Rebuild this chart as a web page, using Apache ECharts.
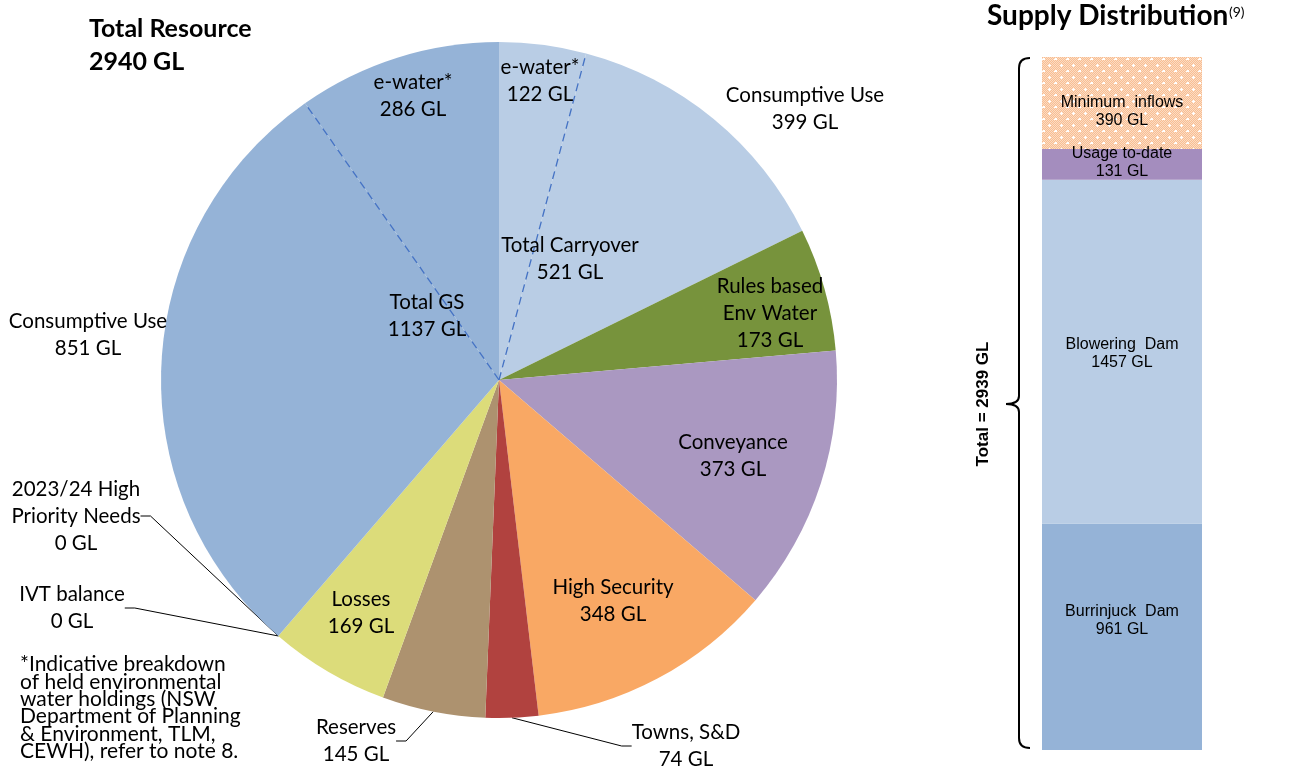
<!DOCTYPE html>
<html>
<head>
<meta charset="utf-8">
<script src="https://cdn.jsdelivr.net/npm/echarts@6/dist/echarts.min.js"></script>
<style>
  html, body { margin: 0; padding: 0; background: #fff; }
  #main { width: 1289px; height: 771px; }
</style>
</head>
<body>
<div id="main"></div>
<script>
// pie slices, clockwise from 12 o'clock
const pieNames = ['e-water*', 'Consumptive Use', 'Rules based\nEnv Water', 'Conveyance', 'High Security',
  'Towns, S&D', 'Reserves', 'Losses', 'IVT balance', '2023/24 High\nPriority Needs', 'Consumptive Use', 'e-water*'];
const pieValues = [122, 399, 173, 373, 348, 74, 145, 169, 0, 0, 851, 286];
const pieColors = ['#B9CDE5', '#B9CDE5', '#77933C', '#AA98C1', '#F9A864', '#B1423F', '#AD926F', '#DCDC7A',
  '#95B3D7', '#95B3D7', '#95B3D7', '#95B3D7'];
const carryoverIdx = [0, 1];
const gsIdx = [10, 11];

// supply distribution stack, bottom to top
const supplyNames = ['Burrinjuck  Dam', 'Blowering  Dam', 'Usage to-date', 'Minimum  inflows'];
const supplyValues = [961, 1457, 131, 390];

const font = 'Lato, "Open Sans", sans-serif';
const cx = 499, cy = 380, R = 338;
const total = pieValues.reduce((a, b) => a + b, 0);
const supplyTotal = supplyValues.reduce((a, b) => a + b, 0);
const sumOf = idx => idx.reduce((a, i) => a + pieValues[i], 0);

// where each pie label sits
const labelXY = [[540, 81], [805, 109], [770, 313], [733, 456], [613, 601], [686, 746], [356, 741],
  [361, 613], [72, 608], [76, 516], [88, 335], [413, 96]];
const outsideIdx = [5, 6, 8, 9];

// dotted fill for minimum inflows
const pat = document.createElement('canvas');
pat.width = 12; pat.height = 12;
const pc = pat.getContext('2d');
pc.fillStyle = '#F8BE92';
pc.fillRect(0, 0, 12, 12);
pc.fillStyle = '#FCDCC4';
for (let i = 0; i < 12; i++) for (let j = 0; j < 12; j++) if ((i + j) % 2 === 0) pc.fillRect(i, j, 1, 1);
pc.fillStyle = '#ffffff';
pc.fillRect(5, 4, 1, 3); pc.fillRect(4, 5, 3, 1);
pc.fillRect(11, 10, 1, 3); pc.fillRect(10, 11, 3, 1);
pc.fillRect(0, 10, 1, 3);
const supplyColors = ['#95B3D7', '#B9CDE5', '#A48DBE', { image: pat, repeat: 'repeat' }];
const supplyOffsets = [-16, 2, -2, 9];

// dashed split lines inside the two big groups
function boundaryAngle(k) {
  let s = 0;
  for (let i = 0; i < k; i++) s += pieValues[i];
  return s / total * 2 * Math.PI;
}
function dashLine(k) {
  const a = boundaryAngle(k);
  return {
    type: 'line',
    shape: { x1: cx, y1: cy, x2: cx + (R - 4) * Math.sin(a), y2: cy - (R - 4) * Math.cos(a) },
    style: { stroke: '#4472C4', lineWidth: 1.3, lineDash: [8, 5] },
    z: 10
  };
}

const braceStyle = { stroke: '#000', lineWidth: 2, fill: null };
const brace = [
  { type: 'bezierCurve', shape: { x1: 1030, y1: 58, cpx1: 1019, cpy1: 58, x2: 1019, y2: 68 }, style: braceStyle },
  { type: 'line', shape: { x1: 1019, y1: 68, x2: 1019, y2: 396 }, style: braceStyle },
  { type: 'bezierCurve', shape: { x1: 1019, y1: 396, cpx1: 1019, cpy1: 404, x2: 1006, y2: 404 }, style: braceStyle },
  { type: 'bezierCurve', shape: { x1: 1006, y1: 404, cpx1: 1019, cpy1: 404, x2: 1019, y2: 412 }, style: braceStyle },
  { type: 'line', shape: { x1: 1019, y1: 412, x2: 1019, y2: 738 }, style: braceStyle },
  { type: 'bezierCurve', shape: { x1: 1019, y1: 738, cpx1: 1019, cpy1: 748, x2: 1030, y2: 748 }, style: braceStyle }
];

const chart = echarts.init(document.getElementById('main'));
const option = {
  animation: false,
  title: [
    { text: 'Total Resource\n2940 GL', left: 84, top: 7,
      textStyle: { fontFamily: font, fontWeight: 'bold', fontSize: 25, lineHeight: 33, color: '#000' } }
  ],
  grid: { left: 1042, width: 160, top: 57, bottom: 21 },
  xAxis: { type: 'category', data: ['Supply'], show: false },
  yAxis: { type: 'value', min: 0, max: supplyTotal, show: false },
  series: [
    {
      type: 'pie',
      center: [cx, cy],
      radius: R,
      startAngle: 90,
      clockwise: true,
      avoidLabelOverlap: false,
      minShowLabelAngle: -1,
      data: pieValues.map((v, i) => ({
        value: v,
        name: pieNames[i],
        itemStyle: { color: pieColors[i] },
        label: { position: outsideIdx.includes(i) || i === 1 || i === 10 ? 'outside' : 'inside' },
        labelLine: { show: outsideIdx.includes(i) }
      })),
      label: {
        formatter: p => p.name + '\n' + p.value + ' GL',
        fontFamily: font, fontSize: 20.5, lineHeight: 27, color: '#000', align: 'center'
      },
      labelLine: { lineStyle: { color: '#000', width: 1 }, length: 10, length2: 10 },
      labelLayout: p => ({
        x: labelXY[p.dataIndex][0], y: labelXY[p.dataIndex][1],
        align: 'center', verticalAlign: 'middle'
      })
    },
    ...supplyValues.map((v, i) => ({
      type: 'bar',
      stack: 'supply',
      barWidth: '100%',
      name: supplyNames[i],
      data: [v],
      itemStyle: { color: supplyColors[i] },
      label: {
        show: true, position: 'inside', offset: [0, supplyOffsets[i]],
        formatter: supplyNames[i] + '\n' + v + ' GL',
        fontFamily: '"Liberation Sans", Arial, sans-serif', fontSize: 16, lineHeight: 18, color: '#000'
      }
    }))
  ],
  graphic: [
    dashLine(1), dashLine(11),
    { type: 'text', x: 570, y: 259, z: 20,
      style: { text: 'Total Carryover\n' + sumOf(carryoverIdx) + ' GL', font: '20.5px ' + font, lineHeight: 27,
        fill: '#000', align: 'center', verticalAlign: 'middle' } },
    { type: 'text', x: 427, y: 316, z: 20,
      style: { text: 'Total GS\n' + sumOf(gsIdx) + ' GL', font: '20.5px ' + font, lineHeight: 27,
        fill: '#000', align: 'center', verticalAlign: 'middle' } },
    { type: 'text', x: 20, y: 656,
      style: { text: '*Indicative breakdown\nof held environmental\nwater holdings (NSW\nDepartment of Planning\n& Environment, TLM,\nCEWH), refer to note 8.',
        font: '21px ' + font, lineHeight: 17.3, fill: '#000' } },
    { type: 'text', x: 987, y: 16,
      style: { text: 'Supply Distribution', font: 'bold 28px ' + font, fill: '#000', verticalAlign: 'middle' } },
    { type: 'text', x: 1229, y: 12,
      style: { text: '(9)', font: '14px ' + font, fill: '#000', verticalAlign: 'middle' } },
    ...brace,
    { type: 'text', x: 983, y: 404, rotation: Math.PI / 2,
      style: { text: 'Total = ' + supplyTotal + ' GL', font: 'bold 17px "Liberation Sans", Arial, sans-serif',
        fill: '#000', align: 'center', verticalAlign: 'middle' } }
  ]
};
chart.setOption(option);
</script>
</body>
</html>
